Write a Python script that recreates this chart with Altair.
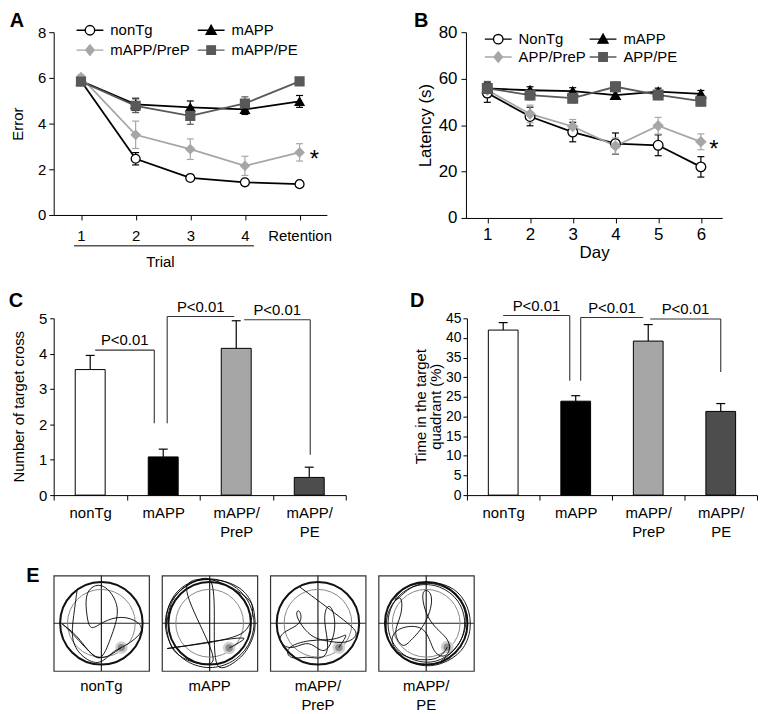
import altair as alt
import pandas as pd

FONT = "Liberation Sans"

panel_letters = ["A", "B", "C", "D", "E"]

# ---------------- Panel A: errors per trial ----------------
a_cats = ["1", "2", "3", "4", "Retention"]
a_trial_span = ["1", "4"]
a_groups = ["nonTg", "mAPP", "mAPP/PreP", "mAPP/PE"]
a_nontg = [5.86, 2.46, 1.62, 1.43, 1.35]
a_nontg_err = [0.12, 0.27, 0.10, 0.10, 0.08]
a_mapp = [5.86, 4.84, 4.71, 4.62, 4.97]
a_mapp_err = [0.12, 0.27, 0.28, 0.22, 0.26]
a_prep = [6.03, 3.51, 2.88, 2.15, 2.74]
a_prep_err = [0.10, 0.60, 0.45, 0.42, 0.38]
a_pe = [5.84, 4.78, 4.34, 4.88, 5.85]
a_pe_err = [0.10, 0.30, 0.37, 0.29, 0.10]
a_star = ["Retention", 2.74]

# ---------------- Panel B: latency per day ----------------
b_cats = ["1", "2", "3", "4", "5", "6"]
b_groups = ["NonTg", "mAPP", "APP/PreP", "APP/PE"]
b_nontg = [53.8, 43.7, 37.0, 32.0, 31.3, 22.0]
b_nontg_err = [4.0, 4.0, 4.2, 4.6, 4.5, 4.4]
b_mapp = [55.8, 55.0, 54.6, 52.9, 54.4, 53.4]
b_mapp_err = [2.6, 1.5, 1.5, 1.5, 1.5, 1.5]
b_prep = [55.0, 44.8, 39.4, 31.0, 39.7, 32.8]
b_prep_err = [3.0, 3.8, 3.0, 3.5, 3.6, 3.4]
b_pe = [55.8, 52.9, 51.6, 56.5, 53.0, 50.3]
b_pe_err = [3.0, 2.0, 2.0, 2.0, 2.0, 2.0]
b_star = ["6", 32.8]

# ---------------- Panels C / D: probe trial ----------------
bar_groups = ["nonTg", "mAPP", "mAPP/PreP", "mAPP/PE"]
c_vals = [3.55, 1.08, 4.15, 0.50]
c_errs = [0.40, 0.22, 0.78, 0.29]
d_vals = [42.0, 23.9, 39.2, 21.3]
d_errs = [1.9, 1.4, 4.2, 2.0]
p_label = "P<0.01"
c_title = "Number of target cross"
d_title = "Time in the target\nquadrant (%)"
# (left group, right group, top, left drop, right drop)
c_brackets = [("nonTg", "mAPP", 4.10, None, 2.03),
              ("mAPP", "mAPP/PreP", 5.05, 2.03, None),
              ("mAPP/PreP", "mAPP/PE", 4.96, None, 1.14)]
d_brackets = [("nonTg", "mAPP", 45.7, None, 29.1),
              ("mAPP", "mAPP/PreP", 45.2, 29.1, None),
              ("mAPP/PreP", "mAPP/PE", 44.8, None, 31.3)]

# ---------------- Panel E: swim paths ----------------
e_labels = ["nonTg", "mAPP", "mAPP/\nPreP", "mAPP/\nPE"]
e_path_x = [
    [-0.51, -0.58, -0.65, -0.38, -0.03, 0.22, 0.46, 0.63, 0.88, 0.81, 0.42, 0.01, -0.24, -0.31, -0.34,
     -0.20, 0.08, 0.42, 0.22, 0.01, -0.20, -0.76, -0.90, -0.48, -0.10, 0.42],
    [-0.90, -0.78, -0.47, 0.00, 0.47, 0.80, 0.93, 0.80, 0.47, 0.00, -0.47, -0.80, -0.93, -0.80, -0.45,
     -0.01, 0.20, 0.65, 0.92, 0.94, 0.83, -0.01, -0.47, 0.06, -0.36, -0.75, -0.90, -0.87, -0.68, -0.33,
     0.30, 0.72, 0.90, 0.72, -0.89, 0.72, 0.41],
    [-0.38, 0.67, 0.88, 0.60, 0.18, -0.17, -0.51, -0.38, -0.31, -0.72, -0.86, -0.58, -0.24, -0.03, 0.18,
     0.39, 0.32, 0.18, 0.11, 0.25, 0.11, -0.24, -0.58, -0.72, -0.17, 0.39, 0.67, 0.44],
    [0.30, 0.70, 0.86, 0.70, 0.30, -0.20, -0.60, -0.82, -0.80, -0.50, 0.00, 0.40, 0.75, 0.88, 0.72,
     0.30, -0.25, -0.60,
     -0.71, -0.36, 0.13, 0.61, 0.89, 0.96, 0.78, 0.33, -0.15, -0.64, -0.88, -0.81, -0.50, -0.50, -0.71,
     -0.50, -0.36, 0.02, 0.19, -0.15, 0.02, 0.54, 0.47, 0.13, 0.02, -0.64, -0.78, -0.50, 0.26, 0.44],
]
e_path_y = [
    [0.69, 0.17, -0.39, -0.74, -0.89, -0.60, -0.49, -0.39, -0.18, 0.03, 0.17, 0.03, -0.18, 0.17, 0.58,
     0.79, 0.83, 0.34, -0.25, -0.81, -0.67, -0.04, 0.03, -0.25, -0.88, -0.51],
    [0.00, 0.47, 0.80, 0.93, 0.80, 0.47, 0.00, -0.47, -0.80, -0.93, -0.80, -0.47, 0.00, 0.47, 0.80,
     0.92, -0.92, -0.71, -0.25, 0.17, 0.48, 0.92, 0.80, -0.81, -0.81, -0.57, -0.11, 0.31, 0.66, 0.88,
     0.88, 0.66, 0.31, -0.18, -0.53, -0.32, -0.52],
    [0.76, -0.02, -0.23, -0.44, -0.37, -0.30, 0.19, 0.33, -0.02, -0.16, -0.37, -0.58, -0.37, -0.51, -0.65,
     -0.16, 0.33, 0.40, 0.05, -0.51, -0.78, -0.68, -0.78, -0.51, -0.33, -0.37, -0.16, -0.51],
    [-0.80, -0.50, 0.00, 0.50, 0.80, 0.84, 0.60, 0.20, -0.30, -0.70, -0.86, -0.75, -0.40, 0.10, 0.55,
     0.84, 0.86, 0.65,
     0.37, 0.78, 0.89, 0.75, 0.37, -0.12, -0.60, -0.88, -0.92, -0.67, -0.19, 0.30, 0.68, 0.16, -0.19,
     -0.53, -0.40, -0.01, 0.65, 0.78, -0.01, -0.33, -0.74, -0.67, -0.01, -0.08, -0.40, -0.74, -0.81, -0.50],
]
e_platform_x = [0.42, 0.41, 0.44, 0.44]
e_platform_y = [-0.51, -0.52, -0.51, -0.50]

# ---------------- styles ----------------
line_colors = ["#000000", "#000000", "#a6a6a6", "#595959"]
marker_fills = ["#ffffff", "#000000", "#a6a6a6", "#595959"]
marker_strokes = ["#000000", "#000000", "#a6a6a6", "#595959"]
marker_shapes = ["circle", "triangle-up", "diamond", "square"]
legend_paths = [
    "M-2.7,0L-0.95,0M0.95,0L2.7,0M-0.95,0A0.95,0.95,0,1,0,0.95,0A0.95,0.95,0,1,0,-0.95,0Z",
    "M-2.7,0L2.7,0M0,-1L1,0.8L-1,0.8Z",
    "M-2.7,0L2.7,0M0,-1.05L0.85,0L0,1.05L-0.85,0Z",
    "M-2.7,0L2.7,0M-0.85,-0.85L0.85,-0.85L0.85,0.85L-0.85,0.85Z",
]
bar_fills = ["#ffffff", "#000000", "#a6a6a6", "#4d4d4d"]
e_interp = ["basis", "catmull-rom", "basis", "basis"]


def text_layer(txt, dx, dy, size=20, weight="bold", angle=0, baseline="middle", line_h=None):
    return alt.Chart(pd.DataFrame({"t": [txt]})).mark_text(
        font=FONT, fontSize=size, fontWeight=weight, align="center", baseline=baseline, color="black",
        angle=angle, lineBreak="\n", lineHeight=line_h if line_h else size
    ).encode(text="t:N", x=alt.value(dx), y=alt.value(dy))


def line_panel(cats, groups, series, errs, star, letter, letter_pos, ytitle, ymax, ystep,
               xaxis, yaxis_kw, leg_cols, leg_rows, leg_label_off, msize, star_dx):
    rows = []
    for g, vals, es in zip(groups, series, errs):
        for c, v, e in zip(cats, vals, es):
            rows.append({"cat": c, "group": g, "value": v, "lo": v - e, "hi": v + e})
    df = pd.DataFrame(rows)
    xsc = alt.Scale(type="point", domain=cats, padding=0.5)
    ysc = alt.Scale(domain=[0, ymax], nice=False, zero=True)
    yax = alt.Axis(title=ytitle, values=list(range(0, ymax + 1, ystep)), **yaxis_kw)
    X = alt.X("cat:N", scale=xsc, axis=xaxis)
    layers = []
    for g, lc in zip(groups, line_colors):
        gb = alt.Chart(df).transform_filter(alt.datum.group == g)
        layers.append(gb.mark_rule(strokeWidth=1.2, color=lc).encode(
            x=X, y=alt.Y("lo:Q", scale=ysc, axis=yax), y2="hi:Q"))
        for fld in ["lo", "hi"]:
            layers.append(gb.mark_tick(size=7, thickness=1.2, color=lc, opacity=1).encode(
                x=X, y=alt.Y(f"{fld}:Q", scale=ysc, axis=yax)))
    for g, lc in zip(groups, line_colors):
        gb = alt.Chart(df).transform_filter(alt.datum.group == g)
        layers.append(gb.mark_line(strokeWidth=1.8, color=lc).encode(
            x=X, y=alt.Y("value:Q", scale=ysc, axis=yax)))
    for g, s, f, st in zip(groups, marker_shapes, marker_fills, marker_strokes):
        gb = alt.Chart(df).transform_filter(alt.datum.group == g)
        layers.append(gb.mark_point(
            shape=s, size=msize, filled=True, fill=f, stroke=st, strokeWidth=1.3, opacity=1
        ).encode(x=X, y=alt.Y("value:Q", scale=ysc, axis=yax)))
    # legend: one entry per group, laid out in two columns
    for k, (g, path, f, st) in enumerate(zip(groups, legend_paths, marker_fills, marker_strokes)):
        r, c = divmod(k, 2)
        leg = alt.Legend(orient="none", legendX=leg_cols[c], legendY=leg_rows[r], symbolSize=100,
                         labelFont=FONT, labelFontSize=15, labelColor="black", padding=0,
                         symbolStrokeWidth=1.4, symbolOpacity=1, labelOffset=leg_label_off)
        layers.append(alt.Chart(pd.DataFrame({"group": [g]})).transform_filter("false").mark_point(
            filled=True, fill=f, stroke=st, size=100, strokeWidth=1.4, opacity=1).encode(
            shape=alt.Shape("group:N", scale=alt.Scale(domain=[g], range=[path]), legend=leg, title=None)))
    sdf = pd.DataFrame({"cat": [star[0]], "value": [star[1]], "t": ["*"]})
    layers.append(alt.Chart(sdf).mark_text(font=FONT, fontSize=24, dx=star_dx, dy=8, color="black").encode(
        x=X, y=alt.Y("value:Q", scale=ysc, axis=yax), text="t:N"))
    layers.append(text_layer(letter, *letter_pos))
    return layers


# ---- A ----
a_xaxis = alt.Axis(title="Trial", titleX=107, titleY=47, titleBaseline="middle", labelAngle=0,
                   tickSize=5, labelPadding=9, labelFontSize=15)
a_layers = line_panel(
    a_cats, a_groups, [a_nontg, a_mapp, a_prep, a_pe], [a_nontg_err, a_mapp_err, a_prep_err, a_pe_err],
    a_star, panel_letters[0], (-37, -11), "Error", 8, 2, a_xaxis,
    dict(tickSize=5, labelPadding=3, labelFontSize=15, titlePadding=12),
    [29, 151], [-9.5, 10.5], 13, 80, 15)
trial_df = pd.DataFrame({"s": [a_trial_span[0]], "e": [a_trial_span[1]]})
a_layers.append(alt.Chart(trial_df).mark_rule(strokeWidth=1.4, color="#555", xOffset=-7, x2Offset=9).encode(
    x=alt.X("s:N", scale=alt.Scale(type="point", domain=a_cats, padding=0.5), axis=a_xaxis),
    x2="e:N", y=alt.value(184 + 31)))
chart_a = alt.layer(*a_layers).resolve_scale(shape="independent").properties(width=275, height=184)

# ---- B ----
b_xaxis = alt.Axis(title="Day", labelAngle=0, tickSize=5, labelPadding=4, labelFontSize=17,
                   titleFontSize=17, titlePadding=2)
b_layers = line_panel(
    b_cats, b_groups, [b_nontg, b_mapp, b_prep, b_pe], [b_nontg_err, b_mapp_err, b_prep_err, b_pe_err],
    b_star, panel_letters[1], (-45, -11), "Latency (s)", 80, 20, b_xaxis,
    dict(tickSize=5, labelPadding=4, labelFontSize=17, titleFontSize=17),
    [25, 130.5], [-0.5, 17.5], 13, 95, 13)
chart_b = alt.layer(*b_layers).resolve_scale(shape="independent").properties(width=258, height=187)


# ---- C / D ----
def bar_panel(vals, errs, brackets, offsets, letter, letter_pos, ytitle, title_pos, ymax, ystep,
              width, height, ylab_size, ylab_pad, ytick):
    df = pd.DataFrame({"cat": bar_groups, "value": vals, "hi": [v + e for v, e in zip(vals, errs)]})
    xsc = alt.Scale(domain=bar_groups, paddingInner=0, paddingOuter=0)
    ysc = alt.Scale(domain=[0, ymax], nice=False, zero=True)
    lab_expr = ("indexof(datum.label, '/') > 0 ? [slice(datum.label, 0, indexof(datum.label, '/') + 1), "
                "slice(datum.label, indexof(datum.label, '/') + 1)] : datum.label")
    xax = alt.Axis(title=None, labelAngle=0, tickBand="extent", tickSize=5, labelPadding=6,
                   labelExpr=lab_expr, labelLineHeight=19, labelFontSize=15)
    yax = alt.Axis(title=None, values=list(range(0, ymax + 1, ystep)), tickSize=ytick,
                   labelPadding=ylab_pad, labelFontSize=ylab_size)
    X = alt.X("cat:N", scale=xsc, axis=xax)
    base = alt.Chart(df)
    layers = [
        base.mark_rule(strokeWidth=1.2, color="black").encode(
            x=X, y=alt.Y("value:Q", scale=ysc, axis=yax), y2="hi:Q"),
        base.mark_tick(size=9, thickness=1.2, color="black", opacity=1).encode(
            x=X, y=alt.Y("hi:Q", scale=ysc, axis=yax)),
        base.mark_bar(width=alt.RelativeBandSize(band=0.41), stroke="black", strokeWidth=1).encode(
            x=X, y=alt.Y("value:Q", scale=ysc, axis=yax),
            fill=alt.Fill("cat:N", scale=alt.Scale(domain=bar_groups, range=bar_fills), legend=None)),
    ]
    step = width / len(bar_groups)
    for (l, r, top, ld, rd), (lo, ro) in zip(brackets, offsets):
        bdf = pd.DataFrame({"l": [l], "r": [r], "top": [top], "ld": [ld if ld is not None else top],
                            "rd": [rd if rd is not None else top], "p": [p_label]})
        bb = alt.Chart(bdf)
        layers.append(bb.mark_rule(strokeWidth=1.1, color="#333", xOffset=lo, x2Offset=ro).encode(
            x=alt.X("l:N", scale=xsc, axis=xax), x2="r:N", y=alt.Y("top:Q", scale=ysc, axis=yax)))
        if ld is not None:
            layers.append(bb.mark_rule(strokeWidth=1.1, color="#333", xOffset=lo).encode(
                x=alt.X("l:N", scale=xsc, axis=xax), y=alt.Y("top:Q", scale=ysc, axis=yax), y2="ld:Q"))
        if rd is not None:
            layers.append(bb.mark_rule(strokeWidth=1.1, color="#333", xOffset=ro).encode(
                x=alt.X("r:N", scale=xsc, axis=xax), y=alt.Y("top:Q", scale=ysc, axis=yax), y2="rd:Q"))
        layers.append(bb.mark_text(font=FONT, fontSize=15, color="black", baseline="alphabetic",
                                   xOffset=(lo + step + ro) / 2, dy=-5).encode(
            x=alt.X("l:N", scale=xsc, axis=xax), y=alt.Y("top:Q", scale=ysc, axis=yax), text="p:N"))
    layers.append(text_layer(letter, *letter_pos))
    layers.append(text_layer(ytitle, title_pos[0], title_pos[1], size=15, weight="normal", angle=270,
                             line_h=15))
    return alt.layer(*layers).properties(width=width, height=height)


chart_c = bar_panel(c_vals, c_errs, c_brackets, [(5, -9), (4, -2), (8, 1)], panel_letters[2], (-38, -17),
                    c_title, (-34.5, 89), 5, 1, 294, 178, 15, 3, 4)
chart_d = bar_panel(d_vals, d_errs, d_brackets, [(0, -6), (5, -5), (2, 0)], panel_letters[3], (-50, -17),
                    d_title, (-46.5, 89), 45, 5, 292, 178, 14, 2, 4)


# ---- E ----
def maze_panel(i):
    sc = alt.Scale(domain=[-1, 1], nice=False, zero=False)
    X = alt.X("x:Q", scale=sc, axis=None)
    Y = alt.Y("y:Q", scale=sc, axis=None)
    cdf = pd.DataFrame({"x": [0.0], "y": [0.0]})
    pdf = pd.DataFrame({"x": e_path_x[i], "y": e_path_y[i], "o": list(range(len(e_path_x[i])))})
    plat = pd.DataFrame({"x": [e_platform_x[i]], "y": [e_platform_y[i]]})
    layers = [
        alt.Chart(cdf).mark_rule(color="#222", strokeWidth=1.2).encode(y=Y),
        alt.Chart(cdf).mark_rule(color="#222", strokeWidth=1.2).encode(x=X),
        alt.Chart(cdf).mark_point(shape="circle", size=4650, filled=False, color="#888", strokeWidth=1,
                                  opacity=1).encode(x=X, y=Y),
        alt.Chart(plat).mark_point(shape="circle", size=160, filled=True, color="#d0d0d0", opacity=1).encode(x=X, y=Y),
        alt.Chart(plat).mark_point(shape="circle", size=55, filled=True, color="#8c8c8c", opacity=1).encode(x=X, y=Y),
        alt.Chart(pdf).mark_line(interpolate=e_interp[i], color="black", strokeWidth=0.9).encode(
            x=X, y=Y, order="o:Q"),
        alt.Chart(cdf).mark_point(shape="circle", size=6900, filled=False, color="#111", strokeWidth=2,
                                  opacity=1).encode(x=X, y=Y),
        text_layer(e_labels[i], 48, 104, size=15, weight="normal", baseline="top", line_h=19),
    ]
    if i == 0:
        layers.append(text_layer(panel_letters[4], -21, 0))
    return alt.layer(*layers).properties(
        width=96, height=96, view=alt.ViewBackground(stroke="#333", strokeWidth=1.2))


row1 = alt.hconcat(chart_a, chart_b, spacing=81)
row2 = alt.hconcat(chart_c, chart_d, spacing=63)
row3 = alt.hconcat(*[maze_panel(i) for i in range(4)], spacing=9)

top = alt.vconcat(row1, row2, spacing=20)
chart = alt.vconcat(top, row3, spacing=24).properties(
    padding={"left": 0, "top": 0, "right": 0, "bottom": 0}
).configure_axis(
    labelFont=FONT, titleFont=FONT, labelColor="black", titleColor="black", titleFontWeight="normal",
    domainColor="black", tickColor="black", grid=False, titleFontSize=15,
).configure_view(stroke="transparent").configure_text(font=FONT)

chart.save("out.html", embed_options={"renderer": "svg", "actions": False})
